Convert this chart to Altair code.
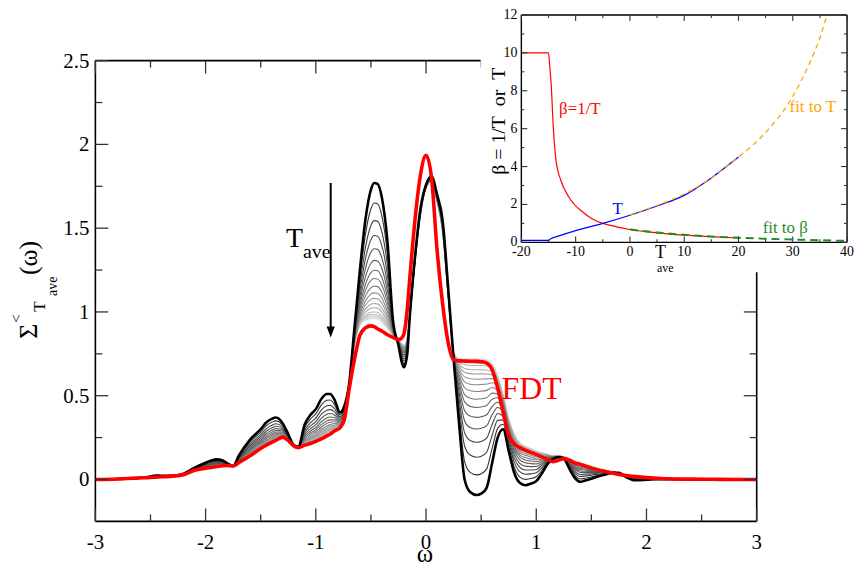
import altair as alt
import pandas as pd

SERIF = "Liberation Serif, Times New Roman, Times, serif"

# ---------------- main panel data ----------------
OMEGA = [-3.0, -2.8, -2.6, -2.5, -2.45, -2.4, -2.3, -2.2, -2.1, -2.0, -1.95, -1.9, -1.85, -1.8,
         -1.75, -1.7, -1.6, -1.5, -1.45, -1.4, -1.36, -1.3, -1.25, -1.2, -1.16, -1.1, -1.05,
         -1.0, -0.95, -0.9, -0.87, -0.83, -0.78, -0.74, -0.7, -0.65, -0.6, -0.55, -0.5, -0.47,
         -0.44, -0.4, -0.35, -0.3, -0.25, -0.22, -0.2, -0.17, -0.15, -0.1, -0.05, 0.0, 0.05,
         0.1, 0.15, 0.2, 0.25, 0.3, 0.35, 0.4, 0.46, 0.5, 0.55, 0.6, 0.65, 0.7, 0.75, 0.8,
         0.85, 0.9, 0.95, 1.0, 1.05, 1.1, 1.15, 1.2, 1.25, 1.3, 1.35, 1.4, 1.45, 1.5, 1.6,
         1.7, 1.75, 1.8, 1.9, 2.0, 2.1, 2.2, 2.4, 2.6, 2.8, 3.0]

# darkest (thick black) curve
BLACK = [0.0, 0.003, 0.01, 0.018, 0.024, 0.022, 0.022, 0.035, 0.07, 0.10, 0.113, 0.12, 0.115, 0.095,
         0.08, 0.14, 0.235, 0.30, 0.34, 0.362, 0.37, 0.335, 0.27, 0.205, 0.195, 0.33, 0.385,
         0.42, 0.48, 0.51, 0.51, 0.475, 0.40, 0.44, 0.56, 0.90, 1.25, 1.55, 1.73, 1.77,
         1.765, 1.68, 1.42, 0.95, 0.80, 0.70, 0.67, 0.75, 0.95, 1.33, 1.62, 1.76, 1.81,
         1.70, 1.55, 1.15, 0.72, 0.33, 0.0, -0.075, -0.093, -0.085, -0.05, 0.10, 0.25, 0.30, 0.17, 0.04,
         -0.02, -0.034, -0.025, -0.01, 0.035, 0.09, 0.12, 0.133, 0.125, 0.065, 0.01, -0.014, -0.005, 0.005, 0.025,
         0.04, 0.04, 0.02, -0.005, -0.002, 0.002, 0.001, 0.0, 0.0, 0.0, 0.0]

# lightest grey curve
LIGHT = [0.0, 0.003, 0.009, 0.012, 0.014, 0.016, 0.02, 0.03, 0.055, 0.067, 0.072, 0.077, 0.082, 0.083,
         0.08, 0.10, 0.14, 0.185, 0.205, 0.222, 0.235, 0.253, 0.235, 0.20, 0.19, 0.205, 0.215,
         0.228, 0.243, 0.26, 0.27, 0.29, 0.31, 0.36, 0.56, 0.80, 0.92, 0.95, 0.96, 0.96,
         0.958, 0.94, 0.90, 0.86, 0.83, 0.81, 0.80, 0.85, 0.95, 1.30, 1.58, 1.74, 1.78,
         1.66, 1.48, 1.10, 0.76, 0.72, 0.72, 0.72, 0.72, 0.72, 0.715, 0.69, 0.62, 0.50, 0.36, 0.27,
         0.22, 0.20, 0.185, 0.17, 0.16, 0.15, 0.14, 0.14, 0.135, 0.125, 0.11, 0.10, 0.09, 0.08, 0.06,
         0.045, 0.038, 0.03, 0.02, 0.012, 0.008, 0.005, 0.002, 0.001, 0.0, 0.0]

# red FDT curve
FDT = [0.0, 0.003, 0.009, 0.012, 0.014, 0.016, 0.02, 0.028, 0.055, 0.067, 0.072, 0.077, 0.082, 0.083,
       0.08, 0.10, 0.14, 0.185, 0.205, 0.222, 0.235, 0.253, 0.232, 0.20, 0.19, 0.205, 0.215,
       0.228, 0.243, 0.26, 0.27, 0.29, 0.31, 0.36, 0.53, 0.716, 0.86, 0.905, 0.917, 0.912,
       0.90, 0.885, 0.864, 0.848, 0.835, 0.845, 0.87, 1.02, 1.18, 1.55, 1.82, 1.935, 1.80,
       1.37, 1.05, 0.82, 0.715, 0.708, 0.707, 0.706, 0.705, 0.703, 0.695, 0.655, 0.545, 0.40, 0.265, 0.213,
       0.19, 0.175, 0.162, 0.15, 0.135, 0.12, 0.106, 0.115, 0.124, 0.115, 0.098, 0.09, 0.078, 0.068, 0.05,
       0.037, 0.03, 0.025, 0.017, 0.011, 0.007, 0.004, 0.002, 0.001, 0.0, 0.0]

# peak heights at omega = -0.47 of the family of curves (black ... lightest)
FAMILY_PEAK = [1.77, 1.65, 1.545, 1.456, 1.377, 1.308, 1.249, 1.20, 1.154, 1.114, 1.081,
               1.05, 1.025, 1.0, 0.985, 0.975, 0.965, 0.96]

X_TICKS = [-3, -2, -1, 0, 1, 2, 3]
X_LABELS = ["-3", "-2", "-1", "0", "1", "2", "3"]
X_MINOR = [-2.5, -1.5, -0.5, 0.5, 1.5, 2.5]
Y_TICKS = [0, 0.5, 1, 1.5, 2, 2.5]
Y_LABELS = ["0", "0.5", "1", "1.5", "2", "2.5"]
Y_MINOR = [0.25, 0.75, 1.25, 1.75, 2.25]

# ---------------- inset data ----------------
T_BLUE = [-20, -15, -14.5, -13.5, -10, -5, 0, 5, 10, 15, 20]
V_BLUE = [0.1, 0.1, 0.2, 0.3, 0.62, 1.0, 1.43, 1.92, 2.48, 3.4, 4.5]
T_RED = [-20, -15, -14.8, -14.5, -14.1, -13.6, -12.7, -11.2, -8.7, -7, -5, -2.5, 0, 5, 10, 15, 20]
V_RED = [10, 10, 9.4, 8.3, 6.0, 4.3, 3.25, 2.37, 1.6, 1.25, 1.0, 0.82, 0.68, 0.5, 0.38, 0.3, 0.23]
T_FIT_T = [0, 5, 10, 15, 20, 25, 30, 33, 35, 36.3]
V_FIT_T = [1.45, 1.95, 2.55, 3.4, 4.5, 5.8, 7.7, 9.4, 10.8, 12.0]
T_FIT_B = [0, 5, 10, 15, 20, 25, 30, 35, 40]
V_FIT_B = [0.68, 0.52, 0.40, 0.31, 0.24, 0.19, 0.15, 0.11, 0.08]

IX_TICKS = [-20, -10, 0, 10, 20, 30, 40]
IX_LABELS = ["-20", "-10", "0", "10", "20", "30", "40"]
IX_MINOR = [-15, -5, 5, 15, 25, 35]
IY_TICKS = [0, 2, 4, 6, 8, 10, 12]
IY_LABELS = ["0", "2", "4", "6", "8", "10", "12"]
IY_MINOR = [1, 3, 5, 7, 9, 11]

# ---------------- layout ----------------
W, H = 666, 464
IX0, IX1 = 429, 757     # inset plot x range (pixels, main plot coordinates)
IYB, IYT = 183, -46     # inset plot y range (bottom, top)
MAJ, MIN_ = 13, 7
IMAJ, IMIN = 6, 3

xs = alt.Scale(domain=[-3, 3], nice=False, zero=False)
ys = alt.Scale(domain=[-0.25, 2.5], nice=False, zero=False)
ixs = alt.Scale(domain=[-20, 40], range=[IX0, IX1], nice=False, zero=False)
iys = alt.Scale(domain=[0, 12], range=[IYB, IYT], nice=False, zero=False)

# ---------------- main panel ----------------
fam_rows = []
span = FAMILY_PEAK[0] - FAMILY_PEAK[-1]
keys, cols = [], []
n = len(FAMILY_PEAK) - 1
for i in range(n, 0, -1):
    wt = (FAMILY_PEAK[0] - FAMILY_PEAK[i]) / span
    k = f"c{i:02d}"
    keys.append(k)
    g = 0.20 + 0.68 * (i - 1) / (n - 1)
    c = int(round(g * 255))
    cols.append(f"#{c:02x}{c:02x}{c:02x}")
    for om, b, l in zip(OMEGA, BLACK, LIGHT):
        fam_rows.append({"w": om, "v": b + wt * (l - b), "k": k})
fam = pd.DataFrame(fam_rows)

family = alt.Chart(fam).mark_line(strokeWidth=1.1, interpolate="monotone").encode(
    x=alt.X("w:Q", scale=xs, axis=None),
    y=alt.Y("v:Q", scale=ys, axis=None),
    color=alt.Color("k:N", scale=alt.Scale(domain=keys, range=cols), legend=None),
)

black = alt.Chart(pd.DataFrame({"w": OMEGA, "v": BLACK})).mark_line(
    color="black", strokeWidth=2.6, interpolate="monotone").encode(
    x=alt.X("w:Q", scale=xs, axis=None), y=alt.Y("v:Q", scale=ys, axis=None))

red = alt.Chart(pd.DataFrame({"w": OMEGA, "v": FDT})).mark_line(
    color="#ff0000", strokeWidth=3.6, interpolate="monotone").encode(
    x=alt.X("w:Q", scale=xs, axis=None), y=alt.Y("v:Q", scale=ys, axis=None))

frame_df = pd.DataFrame({"w": [-3, 3, -3, -3], "v": [2.5, -0.25, -0.25, -0.25],
                         "w2": [3, 3, 3, -3], "v2": [2.5, 2.5, -0.25, 2.5]})
frame = alt.Chart(frame_df).mark_rule(color="black", strokeWidth=1.6).encode(
    x=alt.X("w:Q", scale=xs, axis=None), y=alt.Y("v:Q", scale=ys, axis=None),
    x2="w2:Q", y2="v2:Q")


def xticks(vals, length, scale, y0, sign, width=1.3):
    return alt.Chart(pd.DataFrame({"w": vals})).mark_rule(color="#333", strokeWidth=width).encode(
        x=alt.X("w:Q", scale=scale, axis=None), y=alt.value(y0), y2=alt.value(y0 + sign * length))


def yticks(vals, length, scale, x0, sign, width=1.3):
    return alt.Chart(pd.DataFrame({"v": vals})).mark_rule(color="#333", strokeWidth=width).encode(
        y=alt.Y("v:Q", scale=scale, axis=None), x=alt.value(x0), x2=alt.value(x0 + sign * length))


def xlabels(vals, labels, scale, ypix, size):
    return alt.Chart(pd.DataFrame({"w": vals, "t": labels})).mark_text(
        font=SERIF, fontSize=size, color="black", align="center", baseline="alphabetic").encode(
        x=alt.X("w:Q", scale=scale, axis=None), y=alt.value(ypix), text="t:N")


def ylabels(vals, labels, scale, xpix, size, dy):
    return alt.Chart(pd.DataFrame({"v": vals, "t": labels})).mark_text(
        font=SERIF, fontSize=size, color="black", align="right", baseline="middle", dy=dy).encode(
        y=alt.Y("v:Q", scale=scale, axis=None), x=alt.value(xpix), text="t:N")


main_ticks = [
    xticks(X_TICKS, MAJ, xs, H, -1), xticks(X_MINOR, MIN_, xs, H, -1),
    xticks(X_TICKS, MAJ, xs, 0, 1), xticks(X_MINOR, MIN_, xs, 0, 1),
    yticks(Y_TICKS, MAJ, ys, 0, 1), yticks(Y_MINOR, MIN_, ys, 0, 1),
    yticks(Y_TICKS, MAJ, ys, W, -1), yticks(Y_MINOR, MIN_, ys, W, -1),
]
main_labels = [
    xlabels(X_TICKS, X_LABELS, xs, H + 28, 21),
    ylabels(Y_TICKS, Y_LABELS, ys, -6, 21, 1),
]

ARROW = pd.DataFrame({"w": [-0.865], "v": [1.77], "v2": [0.91], "vh": [0.88]})
arrow = alt.Chart(ARROW).mark_rule(color="black", strokeWidth=2).encode(
    x=alt.X("w:Q", scale=xs, axis=None), y=alt.Y("v:Q", scale=ys, axis=None), y2="v2:Q")
arrow_head = alt.Chart(ARROW).mark_point(
    shape="M-0.75,-1L0.75,-1L0,1Z", filled=True, color="black", size=121, opacity=1).encode(
    x=alt.X("w:Q", scale=xs, axis=None), y=alt.Y("vh:Q", scale=ys, axis=None))


def main_text(txt, w, v, size, color="black", align="left"):
    return alt.Chart(pd.DataFrame({"w": [w], "v": [v], "t": [txt]})).mark_text(
        font=SERIF, fontSize=size, color=color, align=align, baseline="alphabetic").encode(
        x=alt.X("w:Q", scale=xs, axis=None), y=alt.Y("v:Q", scale=ys, axis=None), text="t:N")


t_label = main_text("T", -1.27, 1.385, 28)
ave_label = main_text("ave", -1.117, 1.32, 20)
fdt_label = main_text("FDT", 0.685, 0.479, 32, color="#ff0000")


def px_text(txt, x, y, size, angle=0, align="left", color="black"):
    kw = dict(font=SERIF, fontSize=size, color=color, align=align, baseline="alphabetic")
    if angle:
        kw["angle"] = angle
    return alt.Chart(pd.DataFrame({"t": [txt]})).mark_text(**kw).encode(
        x=alt.value(x), y=alt.value(y), text="t:N")


ylab = [
    px_text("\u03a3", -59, 280, 26, angle=270),
    px_text("<", -75, 264, 15, angle=270),
    px_text("T", -51, 253, 17, angle=270),
    px_text("ave", -39, 237, 14, angle=270),
    px_text("(\u03c9)", -59, 216, 26, angle=270),
]
xlab = px_text("\u03c9", 332, 505, 25, align="center")

main = alt.layer(family, black, red, frame, *main_ticks, *main_labels, arrow, arrow_head,
                 t_label, ave_label, fdt_label, *ylab, xlab)

# ---------------- inset ----------------
cover = alt.Chart(pd.DataFrame({"a": [0]})).mark_rect(color="white", opacity=1).encode(
    x=alt.value(388), x2=alt.value(770), y=alt.value(-60), y2=alt.value(213))

inset_red = alt.Chart(pd.DataFrame({"T": T_RED, "b": V_RED})).mark_line(
    color="#ff0000", strokeWidth=1.2, interpolate="monotone").encode(
    x=alt.X("T:Q", scale=ixs, axis=None), y=alt.Y("b:Q", scale=iys, axis=None))
inset_blue = alt.Chart(pd.DataFrame({"T": T_BLUE, "b": V_BLUE})).mark_line(
    color="#0000ff", strokeWidth=1.2, interpolate="monotone").encode(
    x=alt.X("T:Q", scale=ixs, axis=None), y=alt.Y("b:Q", scale=iys, axis=None))
inset_fitT = alt.Chart(pd.DataFrame({"T": T_FIT_T, "b": V_FIT_T})).mark_line(
    color="#ffa500", strokeWidth=1.3, strokeDash=[5, 4], interpolate="monotone").encode(
    x=alt.X("T:Q", scale=ixs, axis=None), y=alt.Y("b:Q", scale=iys, axis=None))
inset_fitB = alt.Chart(pd.DataFrame({"T": T_FIT_B, "b": V_FIT_B})).mark_line(
    color="#1f8f1f", strokeWidth=2, strokeDash=[8, 5], interpolate="monotone").encode(
    x=alt.X("T:Q", scale=ixs, axis=None), y=alt.Y("b:Q", scale=iys, axis=None))

iframe_df = pd.DataFrame({"T": [-20, 40, -20, -20], "b": [12, 0, 0, 0],
                          "T2": [40, 40, 40, -20], "b2": [12, 12, 0, 12]})
iframe = alt.Chart(iframe_df).mark_rule(color="black", strokeWidth=1.4).encode(
    x=alt.X("T:Q", scale=ixs, axis=None), y=alt.Y("b:Q", scale=iys, axis=None),
    x2="T2:Q", y2="b2:Q")

inset_ticks = [
    xticks(IX_TICKS, IMAJ, ixs, IYB, -1, 1.1), xticks(IX_MINOR, IMIN, ixs, IYB, -1, 1.1),
    xticks(IX_TICKS, IMAJ, ixs, IYT, 1, 1.1), xticks(IX_MINOR, IMIN, ixs, IYT, 1, 1.1),
    yticks(IY_TICKS, IMAJ, iys, IX0, 1, 1.1), yticks(IY_MINOR, IMIN, iys, IX0, 1, 1.1),
    yticks(IY_TICKS, IMAJ, iys, IX1, -1, 1.1), yticks(IY_MINOR, IMIN, iys, IX1, -1, 1.1),
]
inset_tick_labels = [
    xlabels(IX_TICKS, IX_LABELS, ixs, IYB + 14, 14),
    ylabels(IY_TICKS, IY_LABELS, iys, IX0 - 4, 14, 0),
]


def inset_text(txt, T, b, size, color, align="left"):
    return alt.Chart(pd.DataFrame({"T": [T], "b": [b], "t": [txt]})).mark_text(
        font=SERIF, fontSize=size, color=color, align=align, baseline="alphabetic").encode(
        x=alt.X("T:Q", scale=ixs, axis=None), y=alt.Y("b:Q", scale=iys, axis=None), text="t:N")


inset_labels = [
    inset_text("\u03b2=1/T", -13.05, 6.76, 17, "#ff0000"),
    inset_text("fit to T", 29.4, 6.9, 17, "#ffa500"),
    inset_text("T", -2.26, 1.52, 17, "#0000ff", align="center"),
    inset_text("fit to \u03b2", 24.45, 0.47, 17, "#1f8f1f"),
]
inset_titles = [
    px_text("\u03b2 = 1/T\u00a0\u00a0or\u00a0\u00a0T", 413, 61, 20, angle=270, align="center"),
    px_text("T", 569, 199, 18, align="center"),
    px_text("ave", 574, 213, 12, align="center"),
]

inset = alt.layer(cover, inset_red, inset_blue, inset_fitT, inset_fitB, iframe, *inset_ticks,
                  *inset_tick_labels, *inset_labels, *inset_titles)

chart = alt.layer(main, inset).resolve_scale(x="independent", y="independent").properties(
    width=W, height=H,
    autosize=alt.AutoSizeParams(type="none"),
    padding={"left": 88, "top": 51, "right": 98, "bottom": 52},
).configure_view(stroke=None)

chart.save("out.html", embed_options={"renderer": "svg", "actions": False})
